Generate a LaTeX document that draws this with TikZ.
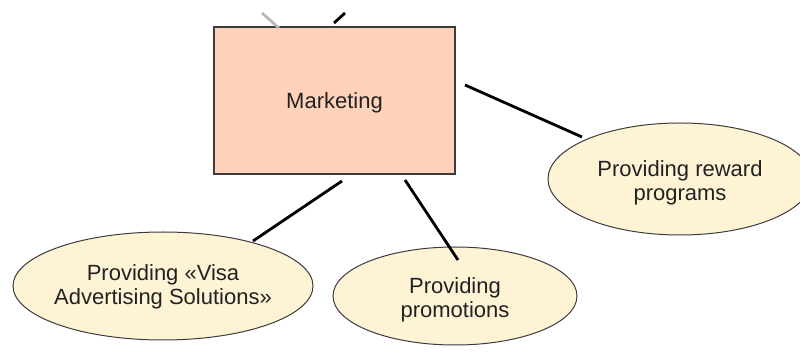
\documentclass[tikz,border=0pt]{standalone}
\usepackage{fontspec}
\setmainfont{Liberation Sans}
\usetikzlibrary{shapes.geometric}
\definecolor{peach}{RGB}{255,210,186}
\definecolor{cream}{RGB}{255,243,214}
\definecolor{edge}{RGB}{60,60,60}
\definecolor{txt}{RGB}{34,34,34}
\definecolor{lgray}{RGB}{180,187,187}
\tikzset{
  box/.style={draw=edge, line width=1.3pt, fill=peach, minimum width=241pt, minimum height=147pt, inner sep=0pt},
  oval/.style={ellipse, draw=edge, line width=1pt, fill=cream, inner sep=0pt},
  lbl/.style={text=txt, align=center, inner sep=0pt, font=\fontsize{22}{23.5}\selectfont},
  link/.style={line width=2.8pt, black},
  ghost/.style={line width=2.8pt, lgray}
}
\begin{document}
\begin{tikzpicture}[x=1pt,y=-1pt]
\useasboundingbox (0,0) rectangle (800,352);
\begin{scope}
\clip (0,0) rectangle (800,352);
\node[box] (mk) at (334.5,100.5) {};
\node[lbl] (mkt) at ([yshift=-2pt]mk.center) {Marketing};
\node[oval, minimum width=300pt, minimum height=108pt] (vas) at (163,286) {};
\node[lbl] (vast) at ([yshift=-1pt]vas.center) {Providing «Visa\\Advertising Solutions»};
\node[oval, minimum width=244pt, minimum height=98pt] (promo) at (455,296) {};
\node[lbl] (promot) at ([yshift=-4pt]promo.center) {Providing\\promotions};
\node[oval, minimum width=264pt, minimum height=112pt] (reward) at (680,179) {};
\node[lbl] (rewardt) at ([yshift=-4pt]reward.center) {Providing reward\\programs};
\coordinate (g1) at (262,13);
\coordinate (g2) at (279,28);
\coordinate (t1) at (345,13);
\coordinate (t2) at (334,23);
\coordinate (a1) at (342,181);
\coordinate (a2) at (253,241);
\coordinate (b1) at (405,180);
\coordinate (b2) at (458,260);
\coordinate (c1) at (465,85);
\coordinate (c2) at (582,137);
\draw[ghost] (g1) -- (g2);
\draw[link] (t1) -- (t2);
\draw[link] (a1) -- (a2);
\draw[link] (b1) -- (b2);
\draw[link] (c1) -- (c2);
\end{scope}
\end{tikzpicture}
\end{document}
